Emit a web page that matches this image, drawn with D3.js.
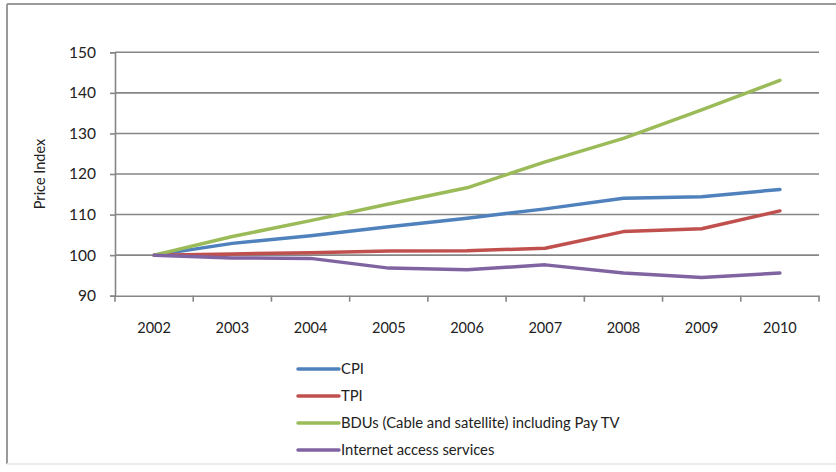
<!DOCTYPE html>
<html>
<head>
<meta charset="utf-8">
<script src="https://cdn.jsdelivr.net/npm/d3@7"></script>
<style>
  html, body { margin: 0; padding: 0; background: #fff; }
  svg { display: block; }
  text { font-family: Lato, "Open Sans", sans-serif; fill: #222; }
</style>
</head>
<body>
<svg id="chart" width="836" height="472"></svg>
<script>
const years = ["2002","2003","2004","2005","2006","2007","2008","2009","2010"];
const yTicks = [90, 100, 110, 120, 130, 140, 150];
const seriesNames = ["CPI", "TPI", "BDUs (Cable and satellite) including Pay TV", "Internet access services"];
const cpi      = [100, 102.9, 104.8, 107.0, 109.1, 111.4, 114.0, 114.4, 116.2];
const tpi      = [100, 100.3, 100.6, 101.0, 101.1, 101.7, 105.8, 106.5, 110.9];
const bdu      = [100, 104.6, 108.5, 112.6, 116.6, 123.0, 128.8, 135.8, 143.1];
const internet = [100, 99.3, 99.2, 96.8, 96.4, 97.6, 95.6, 94.5, 95.6];
const colors = ["#4F81BD", "#C0504D", "#9BBB59", "#8064A2"];

const seriesValues = [cpi, tpi, bdu, internet];
const svg = d3.select("#chart");

// outer frame
svg.append("line").attr("x1", 7).attr("x2", 7).attr("y1", 4).attr("y2", 464)
  .attr("stroke", "#9a9a9a").attr("stroke-width", 2);
svg.append("line").attr("x1", 7).attr("x2", 836).attr("y1", 4).attr("y2", 4)
  .attr("stroke", "#9a9a9a").attr("stroke-width", 2);
svg.append("line").attr("x1", 7).attr("x2", 836).attr("y1", 464).attr("y2", 464)
  .attr("stroke", "#ececec").attr("stroke-width", 2);

const pLeft = 115, pRight = 819, pTop = 52.3, pBottom = 295.7;
const x = d3.scaleBand().domain(years).range([pLeft, pRight]);
const y = d3.scaleLinear().domain([90, 150]).range([pBottom, pTop]);

// gridlines
svg.append("g").selectAll("line").data(yTicks.filter(t => t !== 90)).join("line")
  .attr("x1", pLeft).attr("x2", pRight)
  .attr("y1", d => y(d)).attr("y2", d => y(d))
  .attr("stroke", "#868686").attr("stroke-width", 1.6);

// y axis
const yAxis = svg.append("g").attr("transform", `translate(${pLeft},0)`)
  .call(d3.axisLeft(y).tickValues(yTicks).tickSize(5).tickPadding(14));
yAxis.select(".domain").attr("stroke", "#868686").attr("stroke-width", 1.6);
yAxis.selectAll(".tick line").attr("stroke", "#868686").attr("stroke-width", 1.6);
yAxis.selectAll("text").attr("font-size", 15.5).attr("font-family", "Lato, sans-serif").attr("fill", "#222");

// x axis
const xAxis = svg.append("g").attr("transform", `translate(0,${pBottom})`)
  .call(d3.axisBottom(x).tickSize(0).tickPadding(27));
xAxis.select(".domain").attr("stroke", "#868686").attr("stroke-width", 1.6);
xAxis.selectAll("text").attr("font-size", 14.5).attr("font-family", "Lato, sans-serif").attr("fill", "#222");
// category boundary ticks
svg.append("g").selectAll("line").data(years.concat(["end"])).join("line")
  .attr("x1", (d, i) => i < years.length ? x(d) : x(years[years.length-1]) + x.bandwidth())
  .attr("x2", (d, i) => i < years.length ? x(d) : x(years[years.length-1]) + x.bandwidth())
  .attr("y1", pBottom).attr("y2", pBottom + 6)
  .attr("stroke", "#868686").attr("stroke-width", 1.6);

// axis title
svg.append("text")
  .attr("transform", `translate(45,${(pTop + pBottom) / 2}) rotate(-90)`)
  .attr("text-anchor", "middle")
  .attr("font-size", 14.5)
  .text("Price Index");

// lines
const line = d3.line()
  .x((d, i) => x(years[i]) + x.bandwidth() / 2)
  .y(d => y(d));
svg.append("g").selectAll("path").data(seriesValues).join("path")
  .attr("d", d => line(d))
  .attr("fill", "none")
  .attr("stroke", (d, i) => colors[i])
  .attr("stroke-width", 3.5)
  .attr("stroke-linejoin", "round")
  .attr("stroke-linecap", "round");

// legend
const legend = svg.append("g");
seriesNames.forEach((name, i) => {
  const ly = 369 + i * 27;
  legend.append("line").attr("x1", 298).attr("x2", 339).attr("y1", ly).attr("y2", ly)
    .attr("stroke", colors[i]).attr("stroke-width", 3.5).attr("stroke-linecap", "round");
  legend.append("text").attr("x", 341).attr("y", ly).attr("dy", "0.35em")
    .attr("font-size", 14.8).text(name);
});
</script>
</body>
</html>
